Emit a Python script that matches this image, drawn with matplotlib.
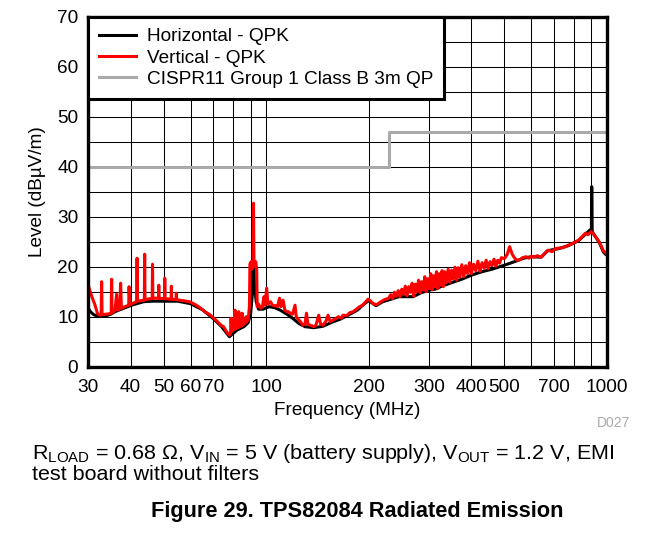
import matplotlib
matplotlib.use("Agg")
import matplotlib.pyplot as plt
import matplotlib.ticker as mticker

plt.rcParams["font.family"] = ["Liberation Sans", "DejaVu Sans"]
plt.rcParams["mathtext.default"] = "regular"

# ── Data ──────────────────────────────────────────────────────────────────────
vert_freq = [
    30.0, 30.3, 30.8, 31.4, 32.0, 32.5, 32.8, 32.9, 33.0, 33.8, 34.8, 35.1, 35.2, 35.3,
    36.0, 36.4, 36.7, 37.2, 37.4, 37.6, 38.5, 39.5, 39.6, 39.8, 41.0, 41.7, 41.8, 41.9,
    43.0, 43.9, 44.0, 44.1, 45.5, 46.3, 46.4, 46.5, 47.5, 48.3, 48.4, 48.5, 50.3, 50.4,
    50.5, 52.6, 52.7, 52.8, 54.4, 54.5, 54.6, 57.0, 59.6, 62.0, 64.0, 66.0, 68.0, 70.0,
    72.0, 74.0, 75.0, 76.5, 78.0, 78.8, 78.9, 79.0, 80.0, 80.9, 81.0, 81.1, 82.0, 83.0,
    83.1, 83.2, 84.9, 85.0, 85.1, 87.0, 87.3, 87.5, 88.5, 89.3, 89.6, 90.3, 90.8, 91.5,
    91.8, 92.1, 93.2, 93.8, 94.1, 95.0, 96.3, 97.5, 98.5, 99.3, 100.3, 101.2, 101.9,
    103.0, 104.3, 105.5, 106.9, 108.0, 109.4, 110.5, 112.1, 113.5, 114.9, 116.3, 117.7,
    119.5, 121.5, 122.5, 123.6, 126.0, 128.2, 130.0, 131.3, 132.5, 134.6, 136.0, 138.0,
    140.0, 142.6, 144.5, 147.0, 150.0, 151.9, 154.0, 156.7, 160.0, 162.8, 166.0, 168.0,
    172.0, 176.0, 180.0, 184.0, 188.0, 192.0, 196.0, 199.0, 202.0, 206.0, 211.0, 216.0,
    222.0, 229.0, 232.0, 235.0, 238.0, 241.0, 244.0, 247.0, 250.0, 253.0, 256.0, 259.0,
    262.0, 265.0, 268.0, 271.0, 274.0, 277.0, 280.0, 283.0, 286.0, 289.0, 292.0, 295.0,
    298.0, 301.0, 304.0, 307.0, 310.0, 313.0, 316.0, 319.0, 322.0, 325.0, 328.0, 331.0,
    334.0, 338.0, 342.0, 346.0, 350.0, 354.0, 358.0, 362.0, 366.0, 370.0, 375.0, 380.0,
    385.0, 390.0, 395.0, 400.0, 406.0, 412.0, 418.0, 424.0, 430.0, 436.0, 442.0, 448.0,
    454.0, 460.0, 466.0, 472.0, 478.0, 484.0, 490.0, 500.0, 510.0, 518.0,
    527.0, 536.0, 545.0, 555.0, 565.0, 578.0, 590.0, 600.0, 612.0, 625.0, 642.0, 656.0,
    671.0, 690.0, 705.0, 719.0, 740.0, 755.0, 770.0, 790.0, 805.0, 825.0, 845.0, 864.0,
    880.0, 898.0, 912.0, 925.0, 940.0, 955.0, 975.0, 990.0,
]
vert_level = [
    16.5, 15.5, 14.0, 12.5, 10.6, 10.3, 10.4, 17.0, 10.4, 10.5, 10.6, 10.7, 17.5, 10.8,
    11.2, 14.5, 11.3, 11.6, 16.7, 11.7, 12.0, 12.3, 16.0, 12.4, 12.8, 13.0, 21.7, 13.1,
    13.2, 13.3, 22.5, 13.4, 13.6, 13.6, 20.5, 13.7, 13.7, 13.7, 16.3, 13.7, 13.6, 17.7,
    13.6, 13.5, 16.1, 13.5, 13.4, 14.7, 13.4, 13.2, 13.0, 12.4, 11.8, 11.0, 10.5, 9.8,
    9.0, 8.2, 8.0, 7.0, 6.3, 7.0, 9.7, 7.0, 7.3, 7.5, 11.3, 7.6, 7.7, 7.9,
    11.0, 8.0, 8.2, 10.7, 8.3, 8.8, 10.0, 9.0, 9.3, 12.0, 20.5, 21.0, 19.5, 20.0,
    32.7, 20.0, 21.0, 19.5, 12.0, 12.5, 11.7, 12.0, 14.0, 12.3, 15.7, 12.5, 12.7,
    13.0, 12.3, 12.2, 12.2, 12.0, 13.7, 12.0, 13.3, 11.3, 11.0, 11.0, 10.7,
    10.5, 12.3, 10.0, 9.7, 9.0, 8.3, 8.6, 10.7, 8.5, 8.3, 8.2, 8.0,
    8.3, 10.3, 8.5, 8.3, 9.2, 10.3, 9.0, 9.3, 9.6, 10.0, 9.7, 10.3,
    10.2, 10.8, 11.0, 11.5, 12.0, 12.3, 13.0, 13.5, 13.2, 12.6, 12.4, 12.9,
    13.4, 13.7, 14.4, 13.6, 14.9, 14.1, 15.2, 14.0, 15.5, 14.5, 16.1, 14.2,
    16.0, 14.9, 16.7, 14.1, 16.5, 15.0, 17.3, 14.8, 17.0, 15.3, 18.0, 15.0,
    17.6, 15.6, 18.6, 15.4, 18.2, 16.0, 19.0, 15.6, 18.6, 16.3, 19.2, 16.0,
    19.0, 16.8, 19.5, 16.9, 19.3, 17.5, 19.9, 17.3, 19.8, 17.9, 20.4, 18.0,
    20.2, 18.6, 20.8, 18.6, 20.5, 19.2, 21.1, 19.1, 20.8, 19.7, 21.3, 19.6,
    21.0, 20.2, 21.5, 20.1, 21.3, 20.7, 21.8, 21.6, 22.5, 24.0,
    22.5, 21.7, 21.3, 21.4, 21.8, 22.0, 21.7, 22.1, 21.9, 22.2, 21.9, 22.6,
    23.3, 23.0, 23.6, 23.7, 23.8, 24.0, 24.3, 24.6, 24.9, 25.3, 26.0, 26.7,
    26.4, 27.0, 26.6, 26.0, 25.4, 24.6, 23.2, 22.8,
]

horiz_freq = [
    30.0, 30.5, 31.2, 32.0, 33.6, 35.0, 36.0, 37.9, 40.3, 43.7, 46.1, 50.4, 55.0, 60.0,
    65.0, 70.0, 74.0, 78.0, 82.0, 86.0, 88.5, 90.0, 91.5, 92.0, 92.5, 93.5, 95.0, 98.0,
    102.0, 106.0, 110.0, 115.0, 120.0, 125.0, 130.0, 138.0, 147.0, 156.0, 165.0, 175.0,
    185.0, 195.0, 200.0, 210.0, 220.0, 230.0, 245.0, 258.0, 270.0, 285.0, 300.0, 313.0,
    330.0, 350.0, 375.0, 400.0, 430.0, 460.0, 490.0, 520.0, 545.0, 570.0, 600.0, 640.0,
    670.0, 720.0, 770.0, 825.0, 865.0, 890.0, 900.0, 902.0, 905.0, 925.0, 950.0, 975.0,
    990.0,
]
horiz_level = [
    11.8, 11.0, 10.4, 10.1, 10.1, 10.5, 11.0, 11.6, 12.3, 13.0, 13.1, 13.1, 13.1, 12.6,
    11.4, 9.6, 8.0, 6.0, 7.3, 8.0, 8.8, 10.5, 16.0, 20.0, 16.0, 13.0, 11.5, 11.5,
    12.0, 11.8, 11.3, 10.5, 9.6, 8.6, 8.0, 7.8, 8.1, 8.9, 9.5, 10.4,
    11.3, 12.7, 13.2, 12.2, 13.0, 13.4, 14.0, 14.0, 14.0, 14.8, 15.3, 15.5,
    16.2, 16.8, 17.5, 18.3, 19.0, 19.5, 20.1, 20.7, 21.2, 21.7, 22.0, 21.9,
    23.2, 23.6, 24.2, 25.2, 26.5, 27.3, 27.5, 36.0, 27.0, 26.0, 24.8, 23.0,
    22.5,
]

limit_freq = [30, 230, 230, 1000]
limit_level = [40, 40, 47, 47]

x_ticks = [30, 40, 50, 60, 70, 100, 200, 300, 400, 500, 700, 1000]
x_grid = [40, 50, 60, 70, 80, 90, 100, 200, 300, 400, 500, 600, 700, 800, 900]

FS = 13.7

# ── Figure ────────────────────────────────────────────────────────────────────
fig = plt.figure(figsize=(6.69, 5.39), dpi=100)
ax = fig.add_axes([0.1315, 0.3197, 0.7758, 0.6493])

ax.set_xscale("log")
ax.set_xlim(30, 1000)
ax.set_ylim(0, 70)

for f in x_grid:
    ax.axvline(f, color="black", linewidth=0.75, zorder=1)
for lv in range(5, 70, 5):
    ax.axhline(lv, color="black", linewidth=0.75, zorder=1)

ax.plot(horiz_freq, horiz_level, color="black", linewidth=2.2, label="Horizontal - QPK", zorder=3)
ax.plot(vert_freq, vert_level, color="#FF0000", linewidth=2.2, label="Vertical - QPK", zorder=4)
ax.plot(limit_freq, limit_level, color="#AAAAAA", linewidth=2.2,
        label="CISPR11 Group 1 Class B 3m QP", zorder=2)

ax.xaxis.set_major_locator(mticker.FixedLocator(x_ticks))
ax.xaxis.set_major_formatter(mticker.FixedFormatter([str(t) for t in x_ticks]))
ax.xaxis.set_minor_locator(mticker.NullLocator())
ax.set_yticks(range(0, 71, 10))
ax.tick_params(length=0, labelsize=FS)
ax.tick_params(axis="x", pad=9)
ax.tick_params(axis="y", pad=7)

for sp in ax.spines.values():
    sp.set_linewidth(2.4)
    sp.set_zorder(6)

ax.set_xlabel("Frequency (MHz)", fontsize=FS, labelpad=4)
ax.set_ylabel("Level (dBµV/m)", fontsize=FS, labelpad=8)

leg = ax.legend(loc="upper left", bbox_to_anchor=(0, 1), borderaxespad=0,
                fontsize=FS, fancybox=False, handlelength=1.95, handletextpad=0.53,
                labelspacing=0.2, borderpad=0.6)
leg.get_frame().set_edgecolor("black")
leg.get_frame().set_linewidth(2.2)
leg.get_frame().set_alpha(1)
leg.set_zorder(7)

fig.text(614 / 669, 1 - 423 / 539, "D027", fontsize=10, color="#AAAAAA",
         ha="center", va="center")
fig.text(32 / 669, 1 - 459 / 539,
         "R$_{LOAD}$ = 0.68 Ω, V$_{IN}$ = 5 V (battery supply), V$_{OUT}$ = 1.2 V, EMI",
         fontsize=15.45, ha="left", va="baseline")
fig.text(32 / 669, 1 - 480 / 539, "test board without filters",
         fontsize=15.45, ha="left", va="baseline")
fig.text(357 / 669, 1 - 511 / 539, "Figure 29. TPS82084 Radiated Emission",
         fontsize=15.7, fontweight="bold", ha="center", va="center")

fig.savefig("out.png", dpi=100)
